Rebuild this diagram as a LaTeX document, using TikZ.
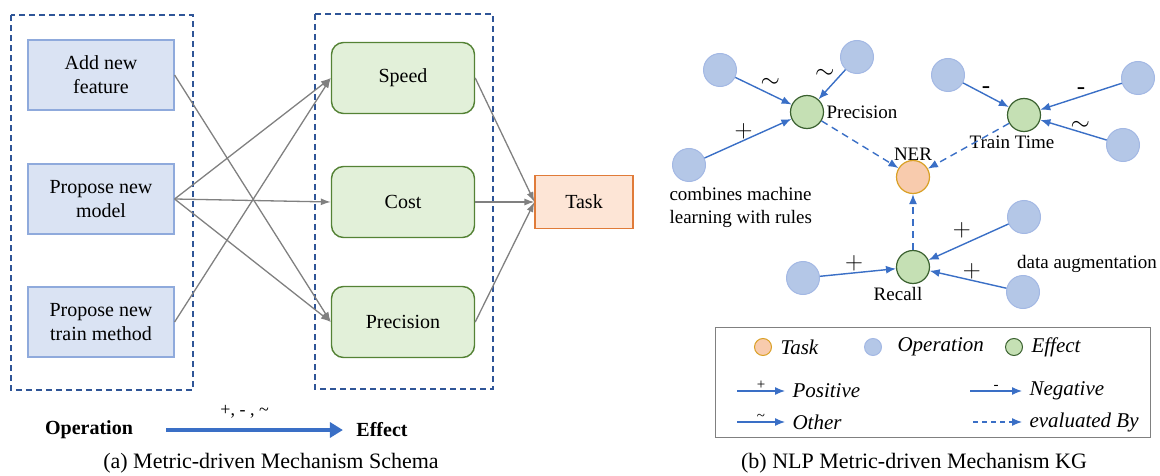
\documentclass[tikz,border=0pt]{standalone}
\usepackage{fontspec}
\setmainfont{Liberation Serif}
\usetikzlibrary{arrows.meta}
\usetikzlibrary{positioning}
\definecolor{opfill}{HTML}{DAE3F3}
\definecolor{opdraw}{HTML}{8FAADC}
\definecolor{effill}{HTML}{E2F0D9}
\definecolor{efdraw}{HTML}{548235}
\definecolor{groupcol}{HTML}{2F5597}
\definecolor{taskfill}{HTML}{FDE5D6}
\definecolor{taskdraw}{HTML}{E07B39}
\definecolor{kgblue}{HTML}{3A6FC6}
\definecolor{opcirc}{HTML}{B4C7E7}
\definecolor{opcircdraw}{HTML}{A3B8E4}
\definecolor{efcirc}{HTML}{C5E0B4}
\definecolor{efcircdraw}{HTML}{3B6130}
\definecolor{nerfill}{HTML}{F8CBAD}
\definecolor{nerdraw}{HTML}{D9A025}
\tikzset{>=latex}
\newcommand\boxfont{\fontsize{20}{24}\selectfont}
\newcommand\kgfont{\fontsize{19}{23}\selectfont}
\newcommand\signfont{\fontsize{25}{25}\selectfont}
\newcommand\capfont{\fontsize{22}{24}\selectfont}
\newcommand\circsize{33pt}
\tikzset{
    opbox/.style={draw=opdraw, fill=opfill, line width=1.2pt, minimum width=146pt, minimum height=70pt, align=center, font=\boxfont},
    efbox/.style={draw=efdraw, fill=effill, line width=1.4pt, rounded corners=12pt, minimum width=143pt, minimum height=71pt, font=\boxfont},
    taskbox/.style={draw=taskdraw, fill=taskfill, line width=1.1pt, minimum width=98pt, minimum height=53pt, font=\boxfont},
    groupbox/.style={draw=groupcol, line width=1.3pt, dash pattern=on 6pt off 4pt},
    flow/.style={-{Latex[length=10pt,width=7pt]}, draw=gray, line width=1.3pt},
    opnode/.style={circle, fill=opcirc, draw=opcircdraw, line width=1pt, minimum size=\circsize, inner sep=0pt},
    efnode/.style={circle, fill=efcirc, draw=efcircdraw, line width=1.2pt, minimum size=\circsize, inner sep=0pt, label distance=-3pt},
    tasknode/.style={circle, fill=nerfill, draw=nerdraw, line width=1.2pt, minimum size=\circsize, inner sep=0pt},
    influence/.style={-{Latex[length=10pt,width=8pt]}, draw=kgblue, line width=1.4pt},
    evaluated/.style={influence, dash pattern=on 7pt off 5pt},
    sign/.style={font=\signfont, inner sep=1pt},
    smallsign/.style={font=\fontsize{15}{15}\selectfont, inner sep=0pt, above=1pt},
    legtext/.style={font=\fontsize{21}{24}\selectfont\itshape, anchor=west},
    every label/.style={font=\kgfont},
}

\begin{document}
\begin{tikzpicture}[x=1pt, y=-1pt]
    \useasboundingbox (0,0) rectangle (1160,476);

    % (a) schema
    \draw[groupbox] (11,15) rectangle (193,390);
    \draw[groupbox] (315,14) rectangle (493,389);

    \node[opbox] (feature) at (101,75) {Add new\\feature};
    \node[opbox] (model) at (101,199) {Propose new\\model};
    \node[opbox] (method) at (101,322) {Propose new\\train method};

    \node[efbox] (speed) at (403,78) {Speed};
    \node[efbox] (cost) at (403,202) {Cost};
    \node[efbox] (prec) at (403,322) {Precision};

    \node[taskbox] (task) at (584,202) {Task};

    \draw[flow] (feature.east) -- (prec.west);
    \draw[flow] (model.east) -- (speed.west);
    \draw[flow] (model.east) -- (cost.west);
    \draw[flow] (model.east) -- (prec.west);
    \draw[flow] (method.east) -- (speed.west);
    \draw[flow] (speed.east) -- (task.west);
    \draw[flow] (cost.east) -- (task.west);
    \draw[flow] (prec.east) -- (task.west);

    \node[font=\boxfont\bfseries] (opname) at (89,430) {Operation};
    \node[font=\boxfont\bfseries] (efname) at (382,430) {Effect};
    \draw[-{Triangle[length=13pt,width=15pt]}, draw=kgblue, line width=4.5pt, shorten <=30pt, shorten >=10pt]
        (opname.east) -- node[above=6pt, font=\fontsize{18}{18}\selectfont] {+, - , \textasciitilde} (efname.west);

    \node[font=\capfont] (capa) at (271,463) {(a) Metric-driven Mechanism Schema};

    % (b) knowledge graph
    \node[efnode, label={[anchor=west, xshift=-1pt]right:Precision}] (kgprec) at (807,112) {};
    \node[efnode, label={[xshift=-12pt]below:Train Time}] (kgtime) at (1024,115) {};
    \node[efnode, label={[xshift=-15pt]below:Recall}] (kgrecall) at (913,267) {};
    \node[tasknode, label={[label distance=-4pt]above:NER}] (ner) at (913,177) {};

    \node[opnode] (o1) at (720,70) {};
    \node[opnode] (o2) at (857,57) {};
    \node[opnode] (o3) at (689,165) {};
    \node[opnode] (o4) at (948,75) {};
    \node[opnode] (o5) at (1138,78) {};
    \node[opnode] (o6) at (1123,145) {};
    \node[opnode] (o7) at (803,278) {};
    \node[opnode] (o8) at (1024,217) {};
    \node[opnode] (o9) at (1023,292) {};

    \draw[influence] (o1) -- node[sign, pos=.42, above right] {$\sim$} (kgprec);
    \draw[influence] (o2) -- node[sign, pos=.35, above left] {$\sim$} (kgprec);
    \draw[influence] (o3) -- node[sign, pos=.45, above] {$+$} (kgprec);
    \draw[influence] (o4) -- node[sign, pos=.5, above] {-} (kgtime);
    \draw[influence] (o5) -- node[sign, pos=.5, above] {-} (kgtime);
    \draw[influence] (o6) -- node[sign, pos=.4, above] {$\sim$} (kgtime);
    \draw[influence] (o7) -- node[sign, pos=.45, above] {$+$} (kgrecall);
    \draw[influence] (o8) -- node[sign, pos=.45, above left] {$+$} (kgrecall);
    \draw[influence] (o9) -- node[sign, pos=.45, above] {$+$} (kgrecall);

    \draw[evaluated] (kgprec) -- (ner);
    \draw[evaluated] (kgtime) -- (ner);
    \draw[evaluated] (kgrecall) -- (ner);

    \node[font=\kgfont, align=left, anchor=north west] (rules) at (666,184) {combines machine\\learning with rules};
    \node[font=\kgfont] (augment) at (1087,264) {data augmentation};

    % legend
    \draw[draw=gray, line width=1pt] (715,327) rectangle (1150,437);
    \node[tasknode, minimum size=17pt, line width=1pt] (legtask) at (763,347) {};
    \node[legtext] at (legtask.east) [xshift=5pt] {Task};
    \node[opnode, minimum size=17pt] (legop) at (873,347) {};
    \node[legtext] at (legop.east) [xshift=12pt] {Operation};
    \node[efnode, minimum size=17pt, line width=1pt] (legef) at (1014,347) {};
    \node[legtext] at (legef.east) [xshift=5pt] {Effect};

    \coordinate (p1) at (737,391); \coordinate (p2) at (785,391);
    \coordinate (n1) at (970,391); \coordinate (n2) at (1022,391);
    \coordinate (t1) at (737,422); \coordinate (t2) at (785,422);
    \coordinate (e1) at (973,422); \coordinate (e2) at (1022,422);
    \draw[influence, line width=1.2pt] (p1) -- node[smallsign] {+} (p2);
    \node[legtext] at (p2) [xshift=4pt] {Positive};
    \draw[influence, line width=1.2pt] (n1) -- node[smallsign] {-} (n2);
    \node[legtext] at (n2) [xshift=4pt] {Negative};
    \draw[influence, line width=1.2pt] (t1) -- node[smallsign] {\textasciitilde} (t2);
    \node[legtext] at (t2) [xshift=4pt] {Other};
    \draw[evaluated, line width=1.2pt, dash pattern=on 5pt off 4pt] (e1) -- (e2);
    \node[legtext] at (e2) [xshift=4pt] {evaluated By};

    \node[font=\capfont] (capb) at (914,463) {(b) NLP Metric-driven Mechanism KG};
\end{tikzpicture}
\end{document}
